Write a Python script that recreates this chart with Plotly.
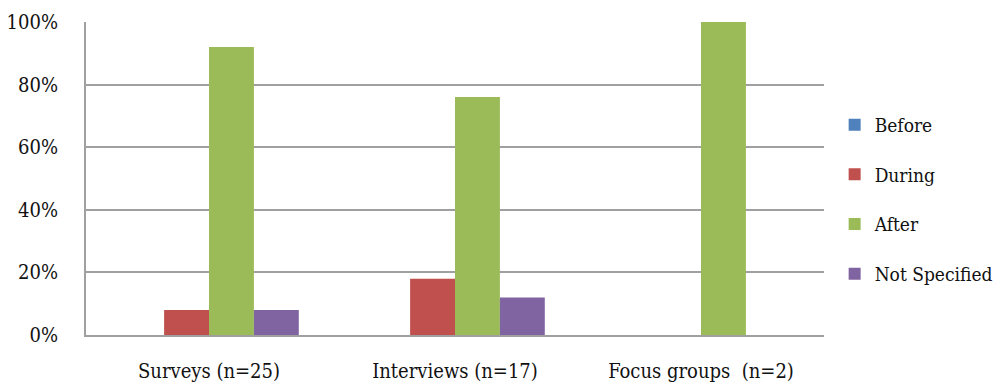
import plotly.graph_objects as go

categories = ["Surveys (n=25)", "Interviews (n=17)", "Focus groups  (n=2)"]
series_names = ["Before", "During", "After", "Not Specified"]
before = [0, 0, 0]
during = [8, 18, 0]
after = [92, 76, 100]
not_specified = [8, 12, 0]
colors = ["#4F81BD", "#C0504D", "#9BBB59", "#8064A2"]
y_ticks = [0, 20, 40, 60, 80, 100]
y_tick_labels = ["0%", "20%", "40%", "60%", "80%", "100%"]

font_family = "DejaVu Serif Condensed, Liberation Serif, serif"

fig = go.Figure()
for i, (name, vals) in enumerate(zip(series_names, [before, during, after, not_specified])):
    fig.add_trace(go.Bar(
        x=categories, y=vals, name=name,
        marker=dict(color=colors[i], line=dict(width=0)),
        legendgroup=name,
    ))

fig.update_layout(
    width=996, height=387,
    margin=dict(l=86, r=172, t=22, b=52, autoexpand=False),
    paper_bgcolor="white", plot_bgcolor="white",
    barmode="group", bargap=0.27, bargroupgap=0,
    font=dict(family=font_family, size=20, color="#111111"),
    legend=dict(
        xref="container", yref="container",
        x=0.838, y=0.485, xanchor="left", yanchor="middle",
        font=dict(size=19, color="#111111"),
        tracegroupgap=22, itemwidth=30,
        bgcolor="rgba(0,0,0,0)",
    ),
    showlegend=True,
)
fig.update_xaxes(
    automargin=False,
    showgrid=False, showline=True, linecolor="#A0A0A0", linewidth=2,
    ticks="outside", ticklen=17, tickcolor="rgba(0,0,0,0)",
    tickfont=dict(size=20),
)
fig.update_yaxes(
    automargin=False,
    range=[0, 100], tickvals=y_ticks, ticktext=y_tick_labels,
    showgrid=True, gridcolor="#A0A0A0", gridwidth=2,
    showline=True, linecolor="#A0A0A0", linewidth=2,
    ticks="outside", ticklen=22, tickcolor="rgba(0,0,0,0)",
    zeroline=False, tickfont=dict(size=20),
)

fig.write_html("out.html")
